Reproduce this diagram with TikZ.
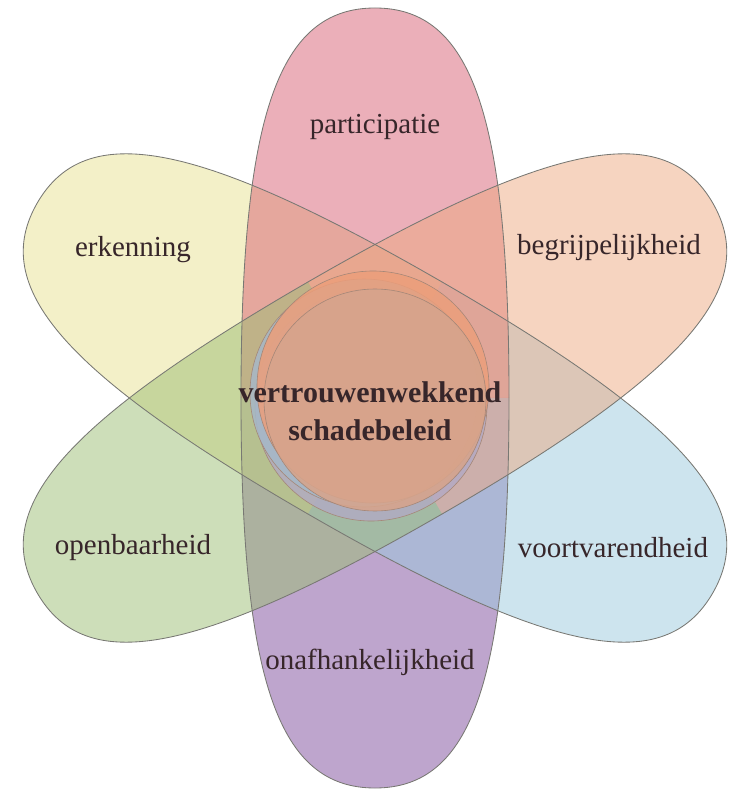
\documentclass[tikz,border=0pt]{standalone}
\usepackage{fontspec}
\setmainfont{Liberation Serif}
\usepackage{tikz}
\usetikzlibrary{positioning}

\definecolor{onafcol}{RGB}{125,75,155}
\definecolor{erkcol}{RGB}{231,225,145}
\definecolor{voortcol}{RGB}{155,201,221}
\definecolor{partcol}{RGB}{215,95,115}
\definecolor{begrcol}{RGB}{237,169,129}
\definecolor{opencol}{RGB}{155,189,115}
\definecolor{heartcol}{RGB}{214,164,140}
\definecolor{glowcol}{RGB}{236,158,122}
\definecolor{shadecol}{RGB}{166,184,200}
\definecolor{dimcol}{RGB}{178,170,196}
\definecolor{edgecol}{RGB}{120,120,115}
\definecolor{rimcol}{RGB}{165,135,120}
\definecolor{textcol}{RGB}{55,38,42}

% one half of a petal, pointing along #1
\newcommand{\halfpetal}[2]{%
  \fill[#2, fill opacity=.5, rotate=#1] (0,-134) .. controls (285,-134) and (390,-96) .. (390,0)
    .. controls (390,96) and (285,134) .. (0,134) -- cycle;}
\newcommand{\petalrim}[1]{%
  \draw[petaledge, rotate=#1] (0,-134) .. controls (285,-134) and (390,-96) .. (390,0)
    .. controls (390,96) and (285,134) .. (0,134);}

\begin{document}
\begin{tikzpicture}[x=1pt, y=1pt,
    petaltext/.style={text=textcol, font=\fontsize{29}{34}\selectfont},
    hearttext/.style={text=textcol, font=\fontsize{30}{38}\selectfont\bfseries, align=center},
    petaledge/.style={draw=edgecol, line width=0.85pt},
    heartrim/.style={draw=rimcol, line width=0.6pt}]
  \useasboundingbox (-375,-394) rectangle (363,398);

  % Petals
  \halfpetal{270}{onafcol}
  \halfpetal{150}{erkcol}
  \halfpetal{330}{voortcol}
  \halfpetal{90}{partcol}
  \halfpetal{30}{begrcol}
  \halfpetal{210}{opencol}
  \petalrim{30}  \petalrim{90}  \petalrim{150}
  \petalrim{210} \petalrim{270} \petalrim{330}

  % Heart
  \filldraw[dimcol, fill opacity=.8, heartrim] (-4,-7) circle (116);
  \filldraw[shadecol, fill opacity=.85, heartrim] (-11,5) circle (114);
  \filldraw[glowcol, fill opacity=.85, heartrim] (-2,11) circle (116);
  \filldraw[heartcol, fill opacity=.88, heartrim] (0,-2) circle (111);

  % Labels
  \node[petaltext] (part)  at (0,271)     {participatie};
  \node[petaltext] (erk)   at (-242,148)  {erkenning};
  \node[petaltext] (begr)  at (234,150)   {begrijpelijkheid};
  \node[petaltext] (open)  at (-242,-150) {openbaarheid};
  \node[petaltext] (voort) at (238,-150)  {voortvarendheid};
  \node[petaltext] (onaf)  at (-5,-264)   {onafhankelijkheid};
  \node[hearttext] (heart) at (-5,-13)    {vertrouwenwekkend\\schadebeleid};
\end{tikzpicture}
\end{document}
